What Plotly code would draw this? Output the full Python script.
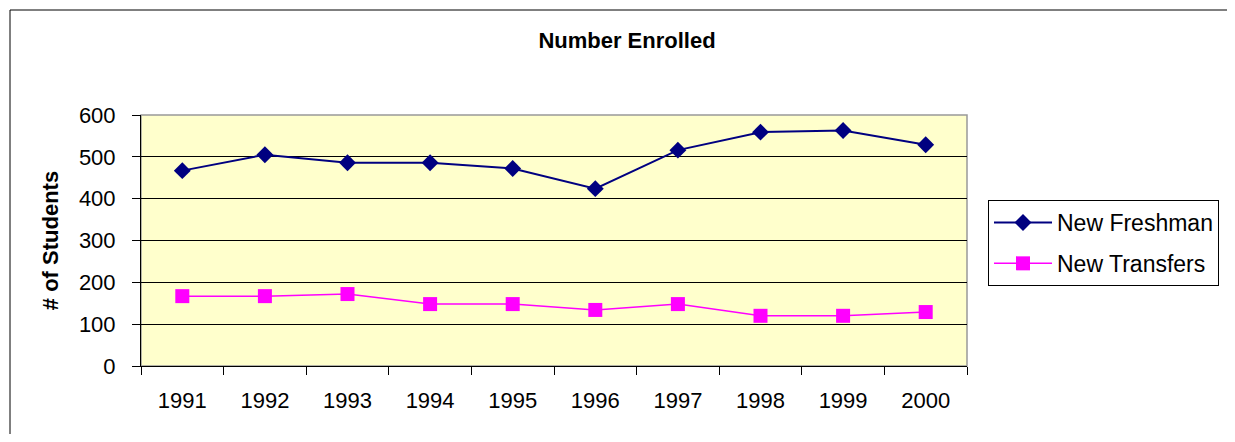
import plotly.graph_objects as go

years = ["1991", "1992", "1993", "1994", "1995", "1996", "1997", "1998", "1999", "2000"]
new_freshman = [467, 505, 486, 486, 472, 424, 516, 559, 563, 529]
new_transfers = [167, 167, 172, 148, 148, 134, 148, 120, 120, 129]

FONT = "Liberation Sans, Arial, sans-serif"

fig = go.Figure()
fig.add_trace(go.Scatter(
    x=years, y=new_freshman, name="New Freshman", mode="lines+markers",
    legendgroup="a",
    line=dict(color="#000080", width=2),
    marker=dict(symbol="diamond", size=13, color="#000080"),
))
fig.add_trace(go.Scatter(
    x=years, y=new_transfers, name="New Transfers", mode="lines+markers",
    legendgroup="b",
    line=dict(color="#FF00FF", width=1.5),
    marker=dict(symbol="square", size=14, color="#FF00FF"),
))

# page body has an 8px margin; figure coordinates are window coords - 8
W, H = 1219, 426
L, T = 133, 107
R = W - 959
B = H - 358
pw = W - L - R
ph = H - T - B
OFF = 8

def px_x(x):
    return (x - OFF - L) / pw

def px_y(y):
    return (H - B - (y - OFF)) / ph

fig.update_layout(
    width=W, height=H,
    margin=dict(l=L, r=R, t=T, b=B, pad=0, autoexpand=False),
    paper_bgcolor="white",
    plot_bgcolor="#FFFFCC",
    font=dict(family=FONT, size=22, color="black"),
    title=dict(text="<b>Number Enrolled</b>", x=px_x(627), xref="paper", xanchor="center",
               y=1 - (40 - OFF) / H, yanchor="middle", font=dict(size=22, family=FONT)),
    showlegend=True,
    legend=dict(x=px_x(988), y=px_y(200), xanchor="left", yanchor="top",
                bordercolor="black", borderwidth=1, bgcolor="white",
                font=dict(size=23, family=FONT), traceorder="grouped",
                tracegroupgap=8, itemwidth=58),
    xaxis=dict(
        type="category", range=[-0.5, len(years) - 0.5], autorange=False,
        tickson="boundaries", ticks="outside", ticklen=8,
        tickcolor="black", showline=True, linecolor="black", linewidth=1,
        showgrid=False, ticklabelstandoff=15, zeroline=False,
        tickfont=dict(size=22, family=FONT),
    ),
    yaxis=dict(
        range=[0, 600], dtick=100, ticks="outside", ticklen=8, tickcolor="black",
        showline=True, linecolor="black", linewidth=1,
        showgrid=True, gridcolor="black", gridwidth=1, zeroline=False,
        ticklabelstandoff=12,
        tickfont=dict(size=22, family=FONT),
        title=dict(text="<b># of Students</b>", standoff=14, font=dict(size=22, family=FONT)),
    ),
    shapes=[
        dict(type="rect", xref="paper", yref="paper", x0=0, x1=1, y0=0, y1=1,
             line=dict(color="#999999", width=1.5), layer="below"),
        dict(type="path", xref="paper", yref="paper",
             path="M {x0},{y0} L {x0},{y1} L {x2},{y1}".format(
                 x0=px_x(10), y0=px_y(460), y1=px_y(10), x2=px_x(1300)),
             line=dict(color="black", width=1)),
    ],
)

fig.write_html("out.html")
